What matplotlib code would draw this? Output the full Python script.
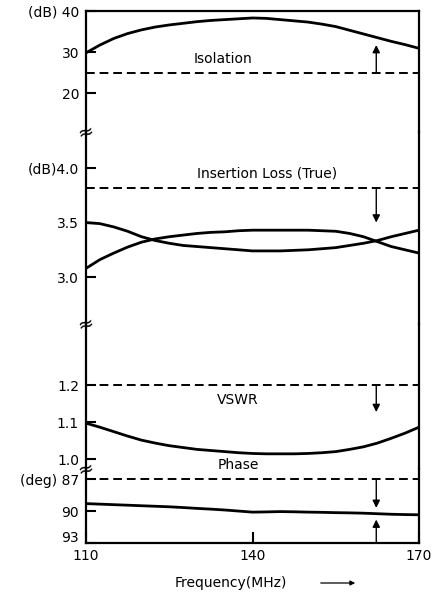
import numpy as np
import matplotlib
matplotlib.use('Agg')
import matplotlib.pyplot as plt
from matplotlib.transforms import ScaledTranslation
from matplotlib.patches import FancyArrowPatch

# frequency points (MHz)
freq = [110, 112.5, 115, 117.5, 120, 122.5, 125, 127.5, 130, 132.5, 135, 137.5, 140,
        142.5, 145, 147.5, 150, 152.5, 155, 157.5, 160, 162.5, 165, 167.5, 170]

isolation = [29.8, 31.7, 33.3, 34.5, 35.4, 36.1, 36.6, 37.0, 37.4, 37.7, 37.9, 38.1, 38.3,
             38.2, 37.9, 37.6, 37.3, 36.8, 36.2, 35.3, 34.4, 33.5, 32.6, 31.8, 30.9]
loss_a = [3.50, 3.49, 3.46, 3.42, 3.37, 3.335, 3.31, 3.29, 3.28, 3.27, 3.26, 3.25, 3.24,
          3.24, 3.24, 3.245, 3.25, 3.26, 3.27, 3.29, 3.31, 3.335, 3.37, 3.40, 3.43]
loss_b = [3.08, 3.16, 3.22, 3.275, 3.32, 3.35, 3.37, 3.385, 3.40, 3.41, 3.415, 3.425, 3.43,
          3.43, 3.43, 3.43, 3.43, 3.425, 3.42, 3.40, 3.37, 3.325, 3.28, 3.25, 3.22]
vswr = [1.097, 1.086, 1.074, 1.062, 1.051, 1.043, 1.036, 1.031, 1.026, 1.023, 1.02, 1.017, 1.015,
        1.014, 1.014, 1.014, 1.015, 1.017, 1.02, 1.026, 1.033, 1.043, 1.056, 1.07, 1.086]
phase = [89.3, 89.35, 89.4, 89.45, 89.5, 89.55, 89.6, 89.67, 89.75, 89.82, 89.9, 90.0, 90.1,
         90.08, 90.05, 90.07, 90.1, 90.12, 90.15, 90.17, 90.2, 90.25, 90.3, 90.33, 90.35]

# spec limits
iso_spec = 25
loss_spec = 3.82
vswr_spec = 1.2
phase_spec = [87, 93]

xticks = [110, 140, 170]

W, H = 446, 608
fig = plt.figure(figsize=(W/100, H/100), dpi=100)

def rect(top, bottom):
    return [86/W, 1-bottom/H, (419-86)/W, (bottom-top)/H]

ax1 = fig.add_axes(rect(11, 132))
ax2 = fig.add_axes(rect(132, 324))
ax3 = fig.add_axes(rect(324, 469))
ax4 = fig.add_axes(rect(469, 543))
axes = [ax1, ax2, ax3, ax4]

for ax in axes:
    ax.set_xlim(110, 170)
    ax.patch.set_alpha(0)
    for s in ['left', 'right', 'top', 'bottom']:
        ax.spines[s].set_linewidth(1.6)
    ax.spines['top'].set_visible(ax is ax1)
    ax.spines['bottom'].set_visible(ax is ax4)
    ax.tick_params(axis='y', direction='in', length=7, width=1.5, labelsize=10, pad=5)
    ax.tick_params(axis='x', direction='in', length=8, width=1.5, labelsize=10, pad=4)
    if ax is not ax4:
        ax.set_xticks([])

dash = (0, (4.5, 2.5))
curve = dict(color='k', lw=2, solid_joinstyle='round', solid_capstyle='round')
arr = dict(arrowstyle='-|>', lw=1.0, color='k', mutation_scale=11, shrinkA=0, shrinkB=0)
x_arrow = 162.3

# isolation
ax1.set_ylim(10.5, 40)
ax1.set_yticks([20, 30, 40])
ax1.set_yticklabels(['20', '30', '(dB) 40'])
ax1.plot(freq, isolation, **curve)
ax1.axhline(iso_spec, color='k', lw=1.4, ls=dash)
ax1.annotate('', xy=(x_arrow, 31.7), xytext=(x_arrow, iso_spec), arrowprops=arr)
ax1.text(134.7, 28.3, 'Isolation', ha='center', va='center', fontsize=10)

# insertion loss
ax2.set_ylim(2.57, 4.33)
ax2.set_yticks([3.0, 3.5, 4.0])
ax2.set_yticklabels(['3.0', '3.5', '(dB)4.0'])
ax2.plot(freq, loss_a, **curve)
ax2.plot(freq, loss_b, **curve)
ax2.axhline(loss_spec, color='k', lw=1.4, ls=dash)
ax2.annotate('', xy=(x_arrow, 3.50), xytext=(x_arrow, loss_spec), arrowprops=arr)
ax2.text(142.6, 3.95, 'Insertion Loss (True)', ha='center', va='center', fontsize=10)

# vswr
ax3.set_ylim(0.973, 1.365)
ax3.set_yticks([1.0, 1.1, 1.2])
ax3.set_yticklabels(['1.0', '1.1', '1.2'])
ax3.plot(freq, vswr, **curve)
ax3.axhline(vswr_spec, color='k', lw=1.4, ls=dash)
ax3.annotate('', xy=(x_arrow, 1.127), xytext=(x_arrow, vswr_spec), arrowprops=arr)
ax3.text(137.4, 1.16, 'VSWR', ha='center', va='center', fontsize=10)
ax3.text(137.4, 0.984, 'Phase', ha='center', va='center', fontsize=10, clip_on=False)

# phase
ax4.set_ylim(93, 86.05)
ax4.set_yticks([87, 90, 93])
ax4.set_yticklabels(['(deg) 87', '90', '93'])
ax4.plot(freq, phase, **curve)
ax4.axhline(phase_spec[0], color='k', lw=1.4, ls=dash)
ax4.annotate('', xy=(x_arrow, 89.7), xytext=(x_arrow, phase_spec[0]), arrowprops=arr)
ax4.annotate('', xy=(x_arrow, 90.8), xytext=(x_arrow, phase_spec[1]), arrowprops=arr)
ax4.set_xticks(xticks)
ax4.set_xticklabels([str(t) for t in xticks])
lab93 = ax4.get_yticklabels()[2]
lab93.set_transform(lab93.get_transform() + ScaledTranslation(0, 6/100, fig.dpi_scale_trans))

# break marks on the left axis
for ax in [ax1, ax2, ax3]:
    ax.text(0, 0, '\u2248', transform=ax.transAxes, ha='center', va='center',
            fontsize=14, rotation=15, clip_on=False)

fig.text(175/W, 1-583/H, 'Frequency(MHz)', ha='left', va='center', fontsize=10)
fig.add_artist(FancyArrowPatch((318/W, 1-583/H), (358/W, 1-583/H),
               transform=fig.transFigure, arrowstyle='-|>', lw=0.9, color='k',
               mutation_scale=7))

fig.savefig('out.png', dpi=100)
